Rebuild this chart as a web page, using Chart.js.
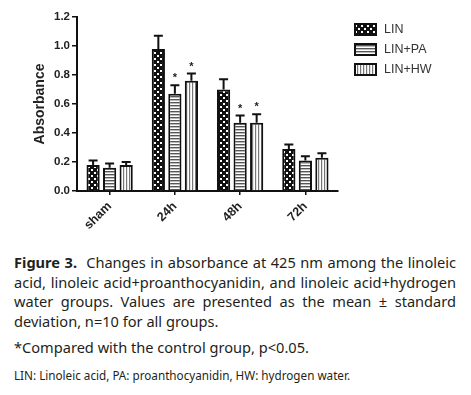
<!DOCTYPE html>
<html>
<head>
<meta charset="utf-8">
<script src="https://cdn.jsdelivr.net/npm/chart.js@4"></script>
<style>
  html, body { margin: 0; padding: 0; background: #fff; }
  body { width: 471px; height: 395px; position: relative; overflow: hidden; }
  #wrap { position: absolute; left: 0; top: 0; width: 471px; height: 240px; }
  .cap { position: absolute; left: 14px; width: 442px; font-family: "Noto Sans", "Open Sans", sans-serif; color: #231f20; }
  .cap div { white-space: nowrap; }
  .j { text-align: justify; text-align-last: justify; }
  #c1 { top: 253px; font-size: 14.6px; line-height: 19.5px; }
  #c2 { top: 338px; font-size: 14.6px; line-height: 19.5px; }
  #c3 { top: 368px; font-size: 11.7px; line-height: 15px; }
</style>
</head>
<body>
<div id="wrap"><canvas id="chart" width="471" height="240"></canvas></div>
<div class="cap" id="c1">
  <div class="j"><b>Figure 3.</b>&nbsp; Changes in absorbance at 425 nm among the linoleic</div>
  <div class="j">acid, linoleic acid+proanthocyanidin, and linoleic acid+hydrogen</div>
  <div class="j">water groups. Values are presented as the mean ± standard</div>
  <div>deviation, n=10 for all groups.</div>
</div>
<div class="cap" id="c2"><div>*Compared with the control group, p&lt;0.05.</div></div>
<div class="cap" id="c3"><div>LIN: Linoleic acid, PA: proanthocyanidin, HW: hydrogen water.</div></div>
<script>
const categories = ["sham", "24h", "48h", "72h"];
const seriesNames = ["LIN", "LIN+PA", "LIN+HW"];
const linMean = [0.18, 0.98, 0.70, 0.29];
const linSD   = [0.03, 0.09, 0.07, 0.03];
const paMean  = [0.16, 0.67, 0.47, 0.21];
const paSD    = [0.03, 0.06, 0.05, 0.03];
const hwMean  = [0.18, 0.76, 0.47, 0.23];
const hwSD    = [0.02, 0.05, 0.06, 0.03];
const paSig   = [false, true, true, false];
const hwSig   = [false, true, true, false];
const yTicks  = [0.0, 0.2, 0.4, 0.6, 0.8, 1.0, 1.2];

function makePattern(kind) {
  const c = document.createElement('canvas');
  const ctx = c.getContext('2d');
  if (kind === 'check') {
    c.width = 6; c.height = 6;
    ctx.fillStyle = '#111'; ctx.fillRect(0, 0, 6, 6);
    ctx.fillStyle = '#fff';
    ctx.fillRect(1, 1, 2, 2);
    ctx.fillRect(4, 4, 2, 2);
  } else if (kind === 'hstripe') {
    c.width = 3; c.height = 3;
    ctx.fillStyle = '#fff'; ctx.fillRect(0, 0, 3, 3);
    ctx.fillStyle = '#555'; ctx.fillRect(0, 0, 3, 1.4);
  } else {
    c.width = 3; c.height = 3;
    ctx.fillStyle = '#fff'; ctx.fillRect(0, 0, 3, 3);
    ctx.fillStyle = '#777'; ctx.fillRect(0, 0, 1.2, 3);
  }
  return document.createElement('canvas').getContext('2d').createPattern(c, 'repeat');
}

const patterns = [makePattern('check'), makePattern('hstripe'), makePattern('vstripe')];
const sds = [linSD, paSD, hwSD];
const sigs = [null, paSig, hwSig];

const errorPlugin = {
  id: 'errbars',
  afterDatasetsDraw(chart) {
    const ctx = chart.ctx;
    const y = chart.scales.y;
    ctx.save();
    chart.data.datasets.forEach((ds, di) => {
      const meta = chart.getDatasetMeta(di);
      meta.data.forEach((bar, i) => {
        const top = y.getPixelForValue(ds.data[i] + sds[di][i]);
        const x = bar.x;
        ctx.strokeStyle = '#111';
        ctx.lineWidth = 2;
        ctx.beginPath();
        ctx.moveTo(x, bar.y);
        ctx.lineTo(x, top);
        ctx.moveTo(x - 4.5, top);
        ctx.lineTo(x + 4.5, top);
        ctx.stroke();
        if (sigs[di] && sigs[di][i]) {
          ctx.fillStyle = '#222';
          ctx.font = 'bold 11px "Liberation Sans", Arial, sans-serif';
          ctx.textAlign = 'center';
          ctx.textBaseline = 'middle';
          ctx.fillText('*', x, top - 7);
        }
      });
    });
    ctx.restore();
  }
};

const legendPlugin = {
  id: 'customLegend',
  afterDraw(chart) {
    const ctx = chart.ctx;
    ctx.save();
    seriesNames.forEach((name, i) => {
      const yy = 29 + i * 20;
      ctx.fillStyle = patterns[i];
      ctx.fillRect(355, yy - 5, 21, 11);
      ctx.strokeStyle = '#111';
      ctx.lineWidth = 2;
      ctx.strokeRect(355, yy - 5, 21, 11);
      ctx.fillStyle = '#333';
      ctx.font = '12.5px "Liberation Sans", Arial, sans-serif';
      ctx.textAlign = 'left';
      ctx.textBaseline = 'middle';
      ctx.fillText(name, 384, yy + 0.5);
    });
    ctx.restore();
  }
};

const means = [linMean, paMean, hwMean];
const tickFont = { family: '"Liberation Sans", Arial, sans-serif', size: 11.5, weight: 'bold' };

new Chart(document.getElementById('chart'), {
  type: 'bar',
  data: {
    labels: categories,
    datasets: seriesNames.map((n, i) => ({
      label: n,
      data: means[i],
      backgroundColor: patterns[i],
      borderColor: '#111',
      borderWidth: 2,
      borderSkipped: 'bottom',
      categoryPercentage: 0.76,
      barPercentage: 0.8
    }))
  },
  options: {
    responsive: false,
    animation: false,
    devicePixelRatio: 1,
    layout: { padding: { left: 32, top: 17, right: 133, bottom: 0 } },
    plugins: { legend: { display: false }, tooltip: { enabled: false } },
    scales: {
      x: {
        offset: true,
        grid: { display: true, drawOnChartArea: false, drawTicks: true, tickLength: 4, color: '#111', lineWidth: 1.5, offset: false },
        border: { color: '#111', width: 2 },
        ticks: { color: '#222', font: { family: '"Liberation Sans", Arial, sans-serif', size: 12.5, weight: 'bold' }, maxRotation: 45, minRotation: 45, padding: 4 },
        afterFit(s) { s.height = 49; }
      },
      y: {
        min: 0, max: 1.2,
        afterBuildTicks(s) { s.ticks = yTicks.map(v => ({ value: v })); },
        grid: { display: true, drawOnChartArea: false, drawTicks: true, tickLength: 5, color: '#111', lineWidth: 1.5 },
        border: { color: '#111', width: 2 },
        ticks: { color: '#222', font: tickFont, padding: 2, callback: v => v.toFixed(1) },
        title: { display: true, text: 'Absorbance', color: '#222', font: { family: '"Liberation Sans", Arial, sans-serif', size: 14, weight: 'bold' }, padding: { top: 0, bottom: 0 } },
        afterFit(s) { s.width = 45; }
      }
    }
  },
  plugins: [errorPlugin, legendPlugin]
});
</script>
</body>
</html>
